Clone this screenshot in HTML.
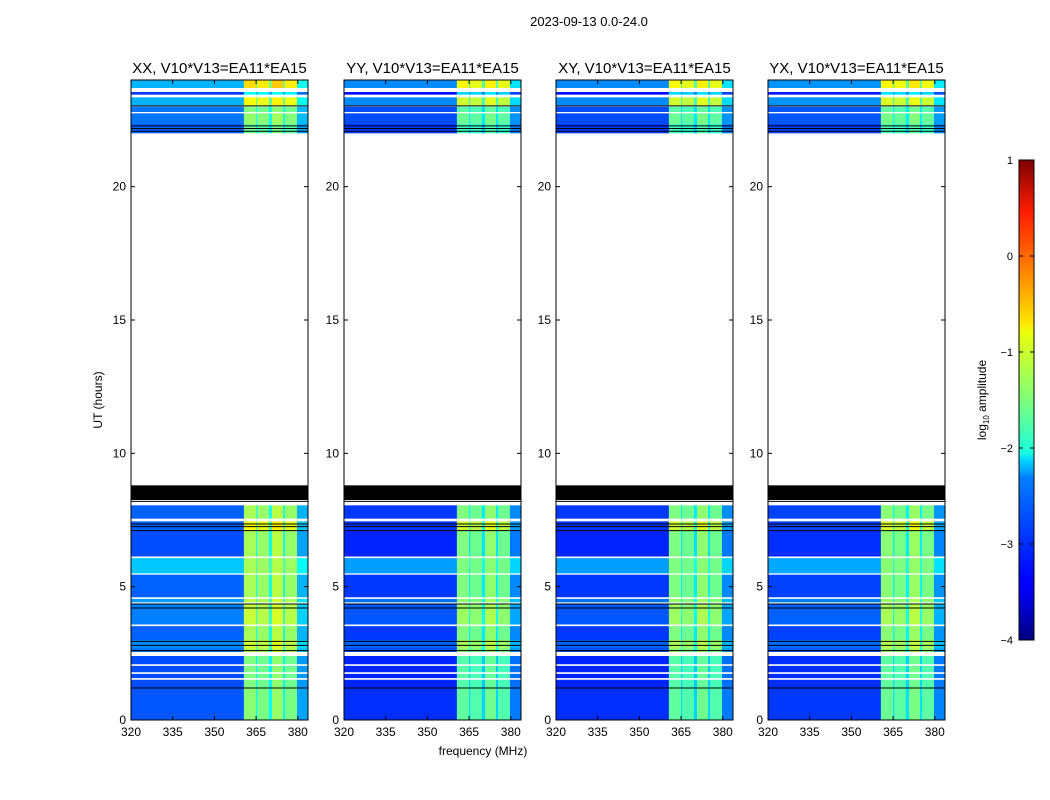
<!DOCTYPE html>
<html><head><meta charset="utf-8">
<style>
body{margin:0;background:#fff;}
svg{display:block;font-family:"Liberation Sans",sans-serif;}
</style></head>
<body>
<svg id="fig" width="1050" height="800" viewBox="0 0 1050 800">
<defs>
<linearGradient id="jet" x1="0" y1="1" x2="0" y2="0">
<stop offset="0" stop-color="#00007f"/><stop offset="0.11" stop-color="#0000ff"/>
<stop offset="0.125" stop-color="#0000ff"/><stop offset="0.34" stop-color="#0080ff"/>
<stop offset="0.35" stop-color="#00a0ff"/><stop offset="0.375" stop-color="#00d4ff"/>
<stop offset="0.39" stop-color="#1affe0"/><stop offset="0.5" stop-color="#7dff7a"/>
<stop offset="0.64" stop-color="#eaff0d"/><stop offset="0.66" stop-color="#ffe600"/>
<stop offset="0.8" stop-color="#ff6800"/><stop offset="0.89" stop-color="#ff1e00"/>
<stop offset="1" stop-color="#7f0000"/>
</linearGradient>
</defs>
<text x="589" y="26" font-size="13" text-anchor="middle">2023-09-13 0.0-24.0</text>
<text x="483" y="755" font-size="12" text-anchor="middle">frequency (MHz)</text>
<text transform="translate(102,400) rotate(-90)" font-size="12" text-anchor="middle">UT (hours)</text>
<g id="panels"></g>
<g>
<rect x="1019" y="160" width="15" height="480" fill="url(#jet)" stroke="#000" stroke-width="1"/>
<g id="cbticks"></g>
<text transform="translate(986,400) rotate(-90)" font-size="12" text-anchor="middle">log<tspan font-size="8" dy="3">10</tspan><tspan dy="-3"> amplitude</tspan></text>
</g>
</svg>
<script>
const panelTitles=["XX, V10*V13=EA11*EA15","YY, V10*V13=EA11*EA15","XY, V10*V13=EA11*EA15","YX, V10*V13=EA11*EA15"];
const panelLeft=[131,344,556,768];
const panelOffset=[0.1,-0.1,-0.1,-0.05];
// time blocks: [startHour, endHour, baseLevel, bandBoost]
const timeBlocks=[[0,1.2,-3.05,1.5],[1.2,2.4,-3.1,1.5],[2.55,2.7,-2.9,1.6],[2.7,3.0,-2.8,1.6],[3.0,3.55,-3.0,1.6],
[3.55,4.4,-2.85,1.6],[4.4,4.57,-2.7,1.4],[4.6,5.45,-3.0,1.6],[5.5,6.1,-2.5,1.1],[6.1,7.1,-3.1,1.7],[7.1,7.45,-3.0,2.0],
[7.55,8.05,-3.0,1.6],[22.0,22.35,-3.0,1.3],[22.35,22.75,-2.9,1.4],[22.8,23.0,-2.9,1.3],[23.05,23.35,-2.6,1.6],
[23.45,23.55,-3.2,1.0],[23.7,24,-2.6,1.8]];
const flaggedBlocks=[[8.25,8.8]];
const blackLines=[1.2,2.6,2.8,2.95,4.2,4.35,7.1,7.25,7.35,8.2,22.08,22.18,22.28,23.03];
const whiteLines=[1.54,1.76,2.06,3.55,4.38,4.57,6.1];
// frequency bands [startMHz,endMHz,boostFactor]
const freqBands=[[320,360.6,0],[360.6,365,1.0],[365,365.4,0.55],[365.4,369.6,0.95],[369.6,370.7,0.55],[370.7,374.7,1.05],[374.7,375.4,0.55],[375.4,379.7,0.95],[379.7,383.7,0.25]];
const xTicks=[320,335,350,365,380];
const yTicks=[0,5,10,15,20];
const cbTicks=[1,0,-1,-2,-3,-4];

const NS="http://www.w3.org/2000/svg";
const W=177,TOP=80,BOT=720;
const yS=h=>BOT-h*(BOT-TOP)/24;
const xS=(f,x0)=>x0+(f-320)*2.78;
function jet(v){let t=(v+4)/5;t=Math.max(0,Math.min(1,t));
 const c=x=>Math.round(255*Math.max(0,Math.min(1,1.5-Math.abs(4*t-x))));
 return `rgb(${c(3)},${c(2)},${c(1)})`;}
function mk(tag,attrs,parent){const e=document.createElementNS(NS,tag);for(const k in attrs)e.setAttribute(k,attrs[k]);parent.appendChild(e);return e;}
const pg=document.getElementById('panels');
panelLeft.forEach((x0,p)=>{
 const g=mk('g',{},pg);
 
 
 timeBlocks.forEach(b=>{freqBands.forEach(fb=>{
  const v=b[2]+panelOffset[p]+b[3]*fb[2];
  const r=mk('rect',{x:xS(fb[0],x0),y:yS(b[1]),width:Math.min(xS(fb[1],x0),x0+W)-xS(fb[0],x0)+0.3,height:yS(b[0])-yS(b[1]),fill:jet(v)},g);
  
  
 });});
 flaggedBlocks.forEach(b=>{const r=mk('rect',{x:x0,y:yS(b[1]),width:W,height:yS(b[0])-yS(b[1]),fill:'#000'},g);
  
  });
 whiteLines.forEach(h=>{const l=mk('line',{x1:x0,x2:x0+W,y1:yS(h),y2:yS(h),stroke:'#fff','stroke-width':1.6},g);
  
  });
 blackLines.forEach(h=>{const l=mk('line',{x1:x0,x2:x0+W,y1:yS(h),y2:yS(h),stroke:'#000','stroke-width':1},g);
  
  });
 const fr=mk('rect',{x:x0,y:TOP,width:W,height:BOT-TOP,fill:'none',stroke:'#000','stroke-width':1},g);
 
 
 const t=mk('text',{x:x0+W/2,y:73,'font-size':15,'text-anchor':'middle'},g);t.textContent=panelTitles[p];
 
 
 xTicks.forEach(f=>{const x=xS(f,x0);
  mk('line',{x1:x,x2:x,y1:BOT,y2:BOT-4,stroke:'#000'},g);mk('line',{x1:x,x2:x,y1:TOP,y2:TOP+4,stroke:'#000'},g);
  const tl=mk('text',{x:x,y:736,'font-size':12,'text-anchor':'middle'},g);tl.textContent=f;
  
  });
 yTicks.forEach(h=>{const y=yS(h);
  mk('line',{x1:x0,x2:x0+4,y1:y,y2:y,stroke:'#000'},g);mk('line',{x1:x0+W,x2:x0+W-4,y1:y,y2:y,stroke:'#000'},g);
  const tl=mk('text',{x:x0-5,y:y+4,'font-size':12,'text-anchor':'end'},g);tl.textContent=h;
  
  });
});
const cg=document.getElementById('cbticks');
cbTicks.forEach(v=>{const y=160+(1-v)*96;
 mk('line',{x1:1019,x2:1023,y1:y,y2:y,stroke:'#000'},cg);mk('line',{x1:1034,x2:1030,y1:y,y2:y,stroke:'#000'},cg);
 const tl=mk('text',{x:1013,y:y+4,'font-size':11,'text-anchor':'end'},cg);tl.textContent=v<0?'\u2212'+(-v):v;
 
 });
</script>
</body></html>
